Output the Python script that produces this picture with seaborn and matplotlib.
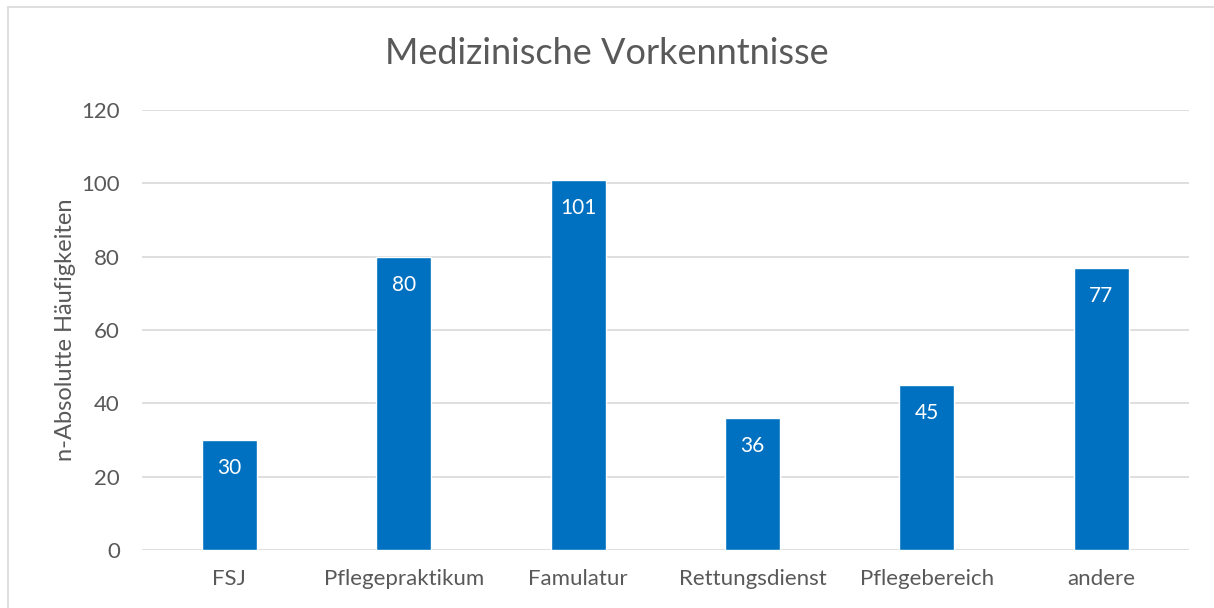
import matplotlib
matplotlib.use('Agg')
import matplotlib.pyplot as plt
import seaborn as sns
import pandas as pd

categories = ['FSJ', 'Pflegepraktikum', 'Famulatur', 'Rettungsdienst', 'Pflegebereich', 'andere']
counts = [30, 80, 101, 36, 45, 77]
yticks = [0, 20, 40, 60, 80, 100, 120]

sns.set_style('white')
plt.rcParams['font.family'] = ['Lato', 'DejaVu Sans']

df = pd.DataFrame({'kategorie': categories, 'n': counts})

fig = plt.figure(figsize=(12.14, 6.08), dpi=100)
ax = fig.add_axes([0.117, 0.0954, 0.862, 0.7237])

sns.barplot(data=df, x='kategorie', y='n', color='#0070C0', width=0.315,
            saturation=1, ax=ax, zorder=3)

ax.set_ylim(0, 120)
ax.set_yticks(yticks)
ax.set_xlim(-0.5, len(categories) - 0.5)
ax.grid(axis='y', color='#D9D9D9', linewidth=1.2, zorder=0)
for s in ax.spines.values():
    s.set_visible(False)
ax.tick_params(axis='both', length=0, labelsize=16, labelcolor='#595959')
ax.tick_params(axis='x', pad=14)
ax.tick_params(axis='y', pad=16)
ax.set_xlabel('')
ax.set_ylabel('n-Absolutte Häufigkeiten', fontsize=17, color='#595959', labelpad=4)

for p, v in zip(ax.patches, counts):
    ax.annotate(str(v), (p.get_x() + p.get_width() / 2, p.get_height()),
                xytext=(0, -20.5), textcoords='offset points',
                ha='center', va='center', color='white', fontsize=15)

fig.text(0.5, 0.912, 'Medizinische Vorkenntnisse', ha='center', va='center',
         fontsize=26, color='#595959')

# outer chart border (only left/top visible in the crop)
fig.add_artist(plt.Line2D([8 / 1214, 8 / 1214], [0, 1 - 7 / 608], transform=fig.transFigure,
                          color='#D9D9D9', linewidth=1.2))
fig.add_artist(plt.Line2D([8 / 1214, 1], [1 - 7 / 608, 1 - 7 / 608], transform=fig.transFigure,
                          color='#D9D9D9', linewidth=1.2))

fig.savefig('out.png', dpi=100)
